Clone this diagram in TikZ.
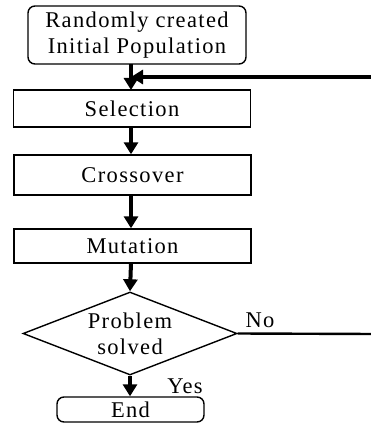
\documentclass[tikz,border=0pt]{standalone}
\usepackage{fontspec}
\setmainfont[LetterSpace=6]{Liberation Serif}
\usetikzlibrary{shapes.geometric,arrows.meta}

\begin{document}
\begin{tikzpicture}[x=1pt,y=-1pt,
    font=\fontsize{22.5}{26}\selectfont,
    procBox/.style={draw,line width=1.4pt,inner sep=0pt,minimum width=237pt},
    termBox/.style={draw,line width=1.4pt,rounded corners=7pt,inner sep=0pt,align=center},
    decisionBox/.style={draw,diamond,aspect=2.58,line width=1.4pt,inner sep=0pt,align=center,minimum width=214pt,minimum height=83pt},
    flowArrow/.style={line width=4pt,-{Triangle[length=12pt,width=14pt]}}]
        \useasboundingbox (0,0) rectangle (370,430);
        \node[termBox,minimum width=218pt,minimum height=58pt] (initPop) at (137,35) {Randomly created\\Initial Population};
        \node[procBox,minimum height=37pt] (selection) at (132,108.5) {Selection};
        \node[procBox,minimum height=40pt] (crossover) at (132.5,175) {Crossover};
        \node[procBox,minimum height=34pt] (mutation) at (132.5,246) {Mutation};
        \node[decisionBox] (solved) at (130,333.5) {Problem\\solved};
        \node[termBox,minimum width=147pt,minimum height=25pt] (endNode) at (130.5,409.5) {End};
        \node (noLabel) at (260,320) {No};
        \node (yesLabel) at (185,386) {Yes};
        \coordinate (loopIn) at (131,77);
        \coordinate (loopTop) at (375,77);
        \coordinate (loopBottom) at (375,334);
        % main flow
        \draw[flowArrow] (131,64) -- (131,90);
        \draw[flowArrow] (131,127) -- (crossover.north -| 131,0);
        \draw[flowArrow] (131,195) -- (mutation.north -| 131,0);
        \draw[flowArrow] (131,263) -- (solved.north);
        \draw[flowArrow] (solved.south) -- (endNode.north -| solved.south);
        % loop back
        \draw[line width=2.4pt] (solved.east) -- (loopBottom) -- (loopTop);
        \draw[flowArrow] (loopTop) -- (loopIn);
\end{tikzpicture}
\end{document}
